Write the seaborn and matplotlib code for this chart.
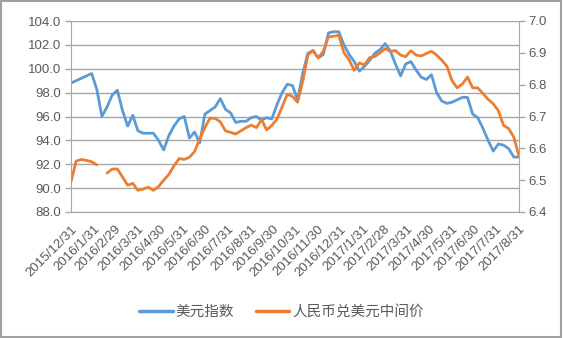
import matplotlib
matplotlib.use('Agg')
import matplotlib.pyplot as plt
import matplotlib.transforms as mtransforms
import seaborn as sns
import pandas as pd
import numpy as np
from matplotlib.patches import Rectangle
from matplotlib.lines import Line2D
from matplotlib.ticker import FormatStrFormatter

nan = np.nan
# weekly observations, 2015/12/31 .. 2017/8/31
dates = pd.date_range('2015-12-31', '2017-08-31', freq='7D')

usd_index = [98.8, 99.0, 99.2, 99.4, 99.6, 98.3, 96.0, 96.8, 97.8, 98.2,
             96.5, 95.2, 96.1, 94.8, 94.6, 94.6, 94.6, 94.0, 93.2, 94.4,
             95.2, 95.8, 96.0, 94.2, 94.7, 93.8, 96.2, 96.5, 96.8, 97.5,
             96.6, 96.3, 95.5, 95.6, 95.6, 95.9, 96.0, 95.7, 95.9, 95.8,
             97.0, 98.0, 98.7, 98.6, 97.4, 99.6, 101.3, 101.5, 100.9, 101.2,
             103.0, 103.1, 103.1, 102.0, 101.2, 100.6, 99.8, 100.2, 100.7, 101.3,
             101.6, 102.1, 101.5, 100.4, 99.4, 100.4, 100.6, 99.9, 99.3, 99.1,
             99.5, 98.0, 97.3, 97.1, 97.2, 97.4, 97.6, 97.6, 96.2, 95.9,
             95.0, 94.0, 93.1, 93.7, 93.6, 93.3, 92.6, 92.6]

cny_mid = [6.495, 6.560, 6.565, 6.562, 6.558, 6.548, nan, 6.522, 6.535, 6.535,
           6.510, 6.484, 6.490, 6.468, 6.472, 6.478, 6.468, 6.480, 6.500, 6.518,
           6.545, 6.568, 6.565, 6.572, 6.590, 6.630, 6.665, 6.695, 6.694, 6.683,
           6.655, 6.650, 6.645, 6.655, 6.665, 6.673, 6.665, 6.690, 6.658, 6.672,
           6.692, 6.730, 6.770, 6.763, 6.745, 6.810, 6.893, 6.908, 6.884, 6.905,
           6.950, 6.952, 6.955, 6.900, 6.878, 6.845, 6.868, 6.862, 6.885, 6.888,
           6.900, 6.913, 6.905, 6.907, 6.893, 6.888, 6.907, 6.893, 6.890, 6.898,
           6.905, 6.893, 6.877, 6.858, 6.812, 6.790, 6.802, 6.824, 6.790, 6.790,
           6.772, 6.754, 6.740, 6.718, 6.672, 6.662, 6.635, 6.575]

series_names = ['美元指数', '人民币兑美元中间价']
left_ticks = [88, 90, 92, 94, 96, 98, 100, 102, 104]
right_ticks = [6.4, 6.5, 6.6, 6.7, 6.8, 6.9, 7.0]
tick_dates = pd.date_range('2015-12-31', '2017-08-31', freq='ME')

BLUE = '#5B9BD5'
ORANGE = '#ED7D31'
GRID = '#a6a6a6'
TXT = '#595959'

df = pd.DataFrame({'date': dates, 'usd': usd_index, 'cny': cny_mid})
df['seg'] = df['cny'].isna().cumsum()

sns.set_style('white')
plt.rcParams['font.family'] = ['Liberation Sans', 'Noto Sans CJK SC', 'DejaVu Sans']

fig = plt.figure(figsize=(5.63, 3.38), dpi=100)
ax = fig.add_axes([71 / 563, 1 - 212 / 338, (519 - 71) / 563, (212 - 21) / 338])

sns.lineplot(data=df, x='date', y='usd', ax=ax, color=BLUE, lw=2.0, legend=False)
ax2 = ax.twinx()
sns.lineplot(data=df.dropna(), x='date', y='cny', units='seg', estimator=None,
             ax=ax2, color=ORANGE, lw=2.0, legend=False)

ax.set_xlim(dates[0], dates[-1])
ax.set_ylim(88, 104)
ax.set_yticks(left_ticks)
ax.yaxis.set_major_formatter(FormatStrFormatter('%.1f'))
ax2.set_ylim(6.4, 7.0)
ax2.set_yticks(right_ticks)
ax2.yaxis.set_major_formatter(FormatStrFormatter('%.1f'))

ax.grid(axis='y', color=GRID, lw=1.0)
ax.grid(axis='x', visible=False)
ax2.grid(False)
ax.set_axisbelow(True)
for a in (ax, ax2):
    a.set_xlabel('')
    a.set_ylabel('')
    a.patch.set_visible(False)

ax.set_xticks(tick_dates)
ax.set_xticklabels([f'{d.year}/{d.month}/{d.day}' for d in tick_dates],
                   rotation=45, ha='right', rotation_mode='anchor')
shift = mtransforms.ScaledTranslation(7 / 100, -3 / 100, fig.dpi_scale_trans)
for lbl in ax.get_xticklabels():
    lbl.set_transform(lbl.get_transform() + shift)

ax.tick_params(axis='both', colors=GRID, labelcolor=TXT, labelsize=9.5,
               direction='out', length=4, width=1, pad=3)
ax.tick_params(axis='x', pad=4)
ax2.tick_params(axis='y', colors=GRID, labelcolor=TXT, labelsize=9.5,
                direction='out', length=4, width=1, pad=3)

for s in ['top', 'right']:
    ax.spines[s].set_visible(False)
for s in ['top', 'left', 'bottom']:
    ax2.spines[s].set_visible(False)
for s in ['left', 'bottom']:
    ax.spines[s].set_color(GRID)
ax2.spines['right'].set_color(GRID)

handles = [Line2D([], [], color=BLUE, lw=2.5), Line2D([], [], color=ORANGE, lw=2.5)]
fig.legend(handles=handles, labels=series_names, loc='center',
           bbox_to_anchor=(0.5, 0.078), ncol=2, frameon=False, fontsize=10.5,
           handlelength=2.3, handletextpad=0.2, columnspacing=1.5,
           labelcolor=TXT)

fig.patches.append(Rectangle((0.002, 0.003), 0.995, 0.993, transform=fig.transFigure,
                             fill=False, edgecolor='#a0a0a0', lw=1.5))

fig.savefig('out.png', dpi=100)
